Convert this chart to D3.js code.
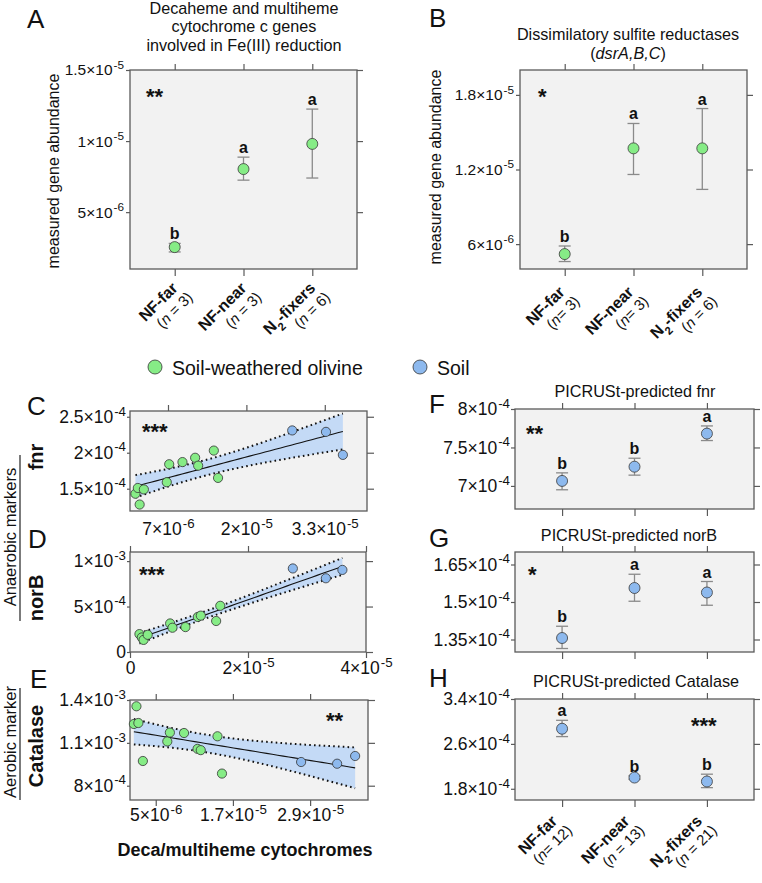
<!DOCTYPE html>
<html>
<head>
<meta charset="utf-8">
<script src="https://cdn.jsdelivr.net/npm/d3@7"></script>
<style>
  body { margin: 0; background: #fff; }
  svg text { font-family: "Liberation Sans", Arial, Helvetica, sans-serif; fill: #111; }
  .frame { fill: #f2f2f2; stroke: #5a5a5a; stroke-width: 1.3; }
  .axis line { stroke: #5a5a5a; stroke-width: 1.2; }
  .axis path { display: none; }
</style>
</head>
<body>
<div id="chart"></div>
<script>
// Groups on the x axis of the category panels
var groups = ["NF-far", "NF-near", "N2-fixers"];
var nOlivineA = [" = 3", " = 3", " = 6"];
var nOlivineB = ["= 3", "= 3", " = 6"];
var nSoil = ["= 12", " = 13", " = 21"];

// A: decaheme / multiheme cytochrome c genes (soil-weathered olivine)
var cytMean = [2.54e-6, 8.03e-6, 9.8e-6];
var cytLo = [2.2e-6, 7.25e-6, 7.4e-6];
var cytHi = [2.8e-6, 8.87e-6, 12.25e-6];
var cytLetters = ["b", "a", "a"];
var cytTicks = [5e-6, 1e-5, 1.5e-5];

// B: dsrA,B,C (soil-weathered olivine)
var dsrMean = [5.2e-6, 13.7e-6, 13.7e-6];
var dsrLo = [4.6e-6, 11.6e-6, 10.4e-6];
var dsrHi = [5.85e-6, 15.7e-6, 16.9e-6];
var dsrLetters = ["b", "a", "a"];
var dsrTicks = [6e-6, 1.2e-5, 1.8e-5];

// F, G, H: PICRUSt predictions (soil)
var fnrPredMean = [7.065e-4, 7.25e-4, 7.68e-4];
var fnrPredLo = [6.95e-4, 7.14e-4, 7.59e-4];
var fnrPredHi = [7.17e-4, 7.36e-4, 7.78e-4];
var fnrPredLetters = ["b", "b", "a"];
var fnrPredTicks = [7e-4, 7.5e-4, 8e-4];

var norBPredMean = [1.356e-4, 1.556e-4, 1.538e-4];
var norBPredLo = [1.314e-4, 1.503e-4, 1.487e-4];
var norBPredHi = [1.403e-4, 1.611e-4, 1.582e-4];
var norBPredLetters = ["b", "a", "a"];
var norBPredTicks = [1.35e-4, 1.5e-4, 1.65e-4];

var catPredMean = [2.87e-4, 2.0e-4, 1.93e-4];
var catPredLo = [2.73e-4, 1.97e-4, 1.82e-4];
var catPredHi = [3.02e-4, 2.03e-4, 2.06e-4];
var catPredLetters = ["a", "b", "b"];
var catPredTicks = [1.8e-4, 2.6e-4, 3.4e-4];

// C, D, E: per-sample deca/multiheme cytochrome abundance vs markers
var sampleType = ["olivine", "olivine", "olivine", "olivine", "olivine", "olivine",
  "olivine", "olivine", "olivine", "olivine", "olivine", "soil", "soil", "soil"];
var sampleCyt = [1.6e-6, 2.0e-6, 2.3e-6, 3.0e-6, 6.8e-6, 7.2e-6, 9.4e-6, 11.5e-6,
  12.0e-6, 14.6e-6, 15.3e-6, 27.6e-6, 33.2e-6, 36.0e-6];
var sampleFnr = [1.43e-4, 1.51e-4, 1.28e-4, 1.49e-4, 1.59e-4, 1.84e-4, 1.87e-4,
  1.93e-4, 1.82e-4, 2.03e-4, 1.65e-4, 2.31e-4, 2.29e-4, 1.97e-4];
var sampleNorB = [0.197e-3, 0.16e-3, 0.133e-3, 0.189e-3, 0.314e-3, 0.267e-3, 0.274e-3,
  0.386e-3, 0.40e-3, 0.341e-3, 0.508e-3, 0.919e-3, 0.811e-3, 0.903e-3];
var sampleCat = [1.232e-3, 1.356e-3, 1.239e-3, 0.973e-3, 1.11e-3, 1.172e-3, 1.169e-3,
  1.058e-3, 1.049e-3, 1.146e-3, 0.885e-3, 0.966e-3, 0.954e-3, 1.008e-3];

var fnrXTicks = [7e-6, 2e-5, 3.3e-5], fnrYTicks = [1.5e-4, 2e-4, 2.5e-4];
var norBXTicks = [0, 2e-5, 4e-5], norBYTicks = [0, 5e-4, 1e-3];
var catXTicks = [5e-6, 1.7e-5, 2.9e-5], catYTicks = [8e-4, 1.1e-3, 1.4e-3];

var colors = { olivine: "#86ec86", soil: "#8db9ee", band: "#c4daf6" };

var svg = d3.select("#chart").append("svg")
    .attr("width", 762)
    .attr("height", 883);

// a×10^b label with superscript exponent
function sci(text, v, size) {
  text.text(null);
  if (v === 0) { text.text("0"); return; }
  var e = Math.floor(Math.log10(v) + 1e-9);
  var m = +(v / Math.pow(10, e)).toPrecision(3);
  text.append("tspan").text(m + "×10");
  text.append("tspan").attr("font-size", size * 0.76).attr("dx", 1)
    .attr("dy", -size * 0.42).text(e);
}

function sciAxis(sel, size) {
  sel.selectAll(".tick text")
    .attr("font-size", size)
    .attr("fill", "#111")
    .each(function(d) { sci(d3.select(this), d, size); });
}

function panelLetter(letter, x, y) {
  svg.append("text").attr("x", x).attr("y", y)
    .attr("font-size", 26).text(letter);
}

function stars(s, x, y, size) {
  svg.append("text").attr("x", x).attr("y", y)
    .attr("font-size", size || 22).attr("font-weight", "bold").text(s);
}

function groupLabel(text, d) {
  if (d === "N2-fixers") {
    text.append("tspan").text("N");
    text.append("tspan").attr("font-size", "0.7em").attr("baseline-shift", "sub").text("2");
    text.append("tspan").text("-fixers");
  } else {
    text.text(d);
  }
}

// Category panel: mean ± error with letters
function catPanel(cfg) {
  var x = d3.scalePoint().domain(groups).range([cfg.x, cfg.x + cfg.w]).padding(0.65);
  var y = d3.scaleLinear().domain(cfg.domain).range([cfg.y + cfg.h, cfg.y]);
  var g = svg.append("g");

  g.append("rect").attr("class", "frame")
    .attr("x", cfg.x).attr("y", cfg.y).attr("width", cfg.w).attr("height", cfg.h);

  g.append("g").attr("class", "axis")
    .attr("transform", "translate(" + cfg.x + ",0)")
    .call(d3.axisLeft(y).tickValues(cfg.ticks).tickSize(4).tickPadding(cfg.tickPad))
    .call(sciAxis, cfg.tickFont);
  g.append("g").attr("class", "axis")
    .attr("transform", "translate(" + (cfg.x + cfg.w) + ",0)")
    .call(d3.axisRight(y).tickValues(cfg.ticks).tickSize(6).tickFormat(""));
  g.append("g").attr("class", "axis")
    .attr("transform", "translate(0," + cfg.y + ")")
    .call(d3.axisTop(x).tickSize(6).tickFormat(""));
  g.append("g").attr("class", "axis")
    .attr("transform", "translate(0," + (cfg.y + cfg.h) + ")")
    .call(d3.axisBottom(x).tickSize(7).tickFormat(""));

  var rows = groups.map(function(d, i) {
    return { g: d, mean: cfg.mean[i], lo: cfg.lo[i], hi: cfg.hi[i], letter: cfg.letters[i] };
  });

  var bars = g.append("g").selectAll("g").data(rows).enter().append("g")
    .attr("stroke", "#8a8a8a").attr("stroke-width", 1.3);
  bars.append("line")
    .attr("x1", function(d) { return x(d.g); }).attr("x2", function(d) { return x(d.g); })
    .attr("y1", function(d) { return y(d.lo); }).attr("y2", function(d) { return y(d.hi); });
  bars.append("line")
    .attr("x1", function(d) { return x(d.g) - 6; }).attr("x2", function(d) { return x(d.g) + 6; })
    .attr("y1", function(d) { return y(d.lo); }).attr("y2", function(d) { return y(d.lo); });
  bars.append("line")
    .attr("x1", function(d) { return x(d.g) - 6; }).attr("x2", function(d) { return x(d.g) + 6; })
    .attr("y1", function(d) { return y(d.hi); }).attr("y2", function(d) { return y(d.hi); });

  g.append("g").selectAll("circle").data(rows).enter().append("circle")
    .attr("cx", function(d) { return x(d.g); })
    .attr("cy", function(d) { return y(d.mean); })
    .attr("r", 5.5)
    .attr("fill", cfg.color).attr("stroke", "#3a3a3a").attr("stroke-width", 0.8);

  g.append("g").selectAll("text").data(rows).enter().append("text")
    .attr("x", function(d) { return x(d.g); })
    .attr("y", function(d) { return y(d.hi) - 4; })
    .attr("text-anchor", "middle")
    .attr("font-size", 16).attr("font-weight", "bold")
    .text(function(d) { return d.letter; });

  if (cfg.nLabels) {
    var lab = g.append("g").selectAll("g").data(groups).enter().append("g")
      .attr("transform", function(d) {
        return "translate(" + (x(d) + cfg.labelDx) + "," + (cfg.y + cfg.h + cfg.labelDy) + ") rotate(-45)";
      });
    lab.append("text")
      .attr("text-anchor", "end")
      .attr("font-size", 16).attr("font-weight", "bold")
      .each(function(d) { groupLabel(d3.select(this), d); });
    lab.append("text")
      .attr("text-anchor", "end")
      .attr("x", 4).attr("y", 17)
      .attr("font-size", 15)
      .each(function(d, i) {
        var t = d3.select(this);
        t.append("tspan").text("(");
        t.append("tspan").attr("font-style", "italic").text("n");
        t.append("tspan").text(cfg.nLabels[i] + ")");
      });
  }

  if (cfg.title) {
    var tt = svg.append("text").attr("text-anchor", "middle").attr("font-size", 16.2);
    cfg.title.forEach(function(line, i) {
      var ts = tt.append("tspan").attr("x", cfg.titleX).attr("y", cfg.titleY + i * 18.5);
      line.forEach(function(seg) {
        ts.append("tspan").attr("font-style", seg[1] ? "italic" : null).text(seg[0]);
      });
    });
  }
}

// Scatter panel with linear fit and 95% confidence band
function scatterPanel(cfg) {
  var x = d3.scaleLinear().domain(cfg.xDomain).range([cfg.x, cfg.x + cfg.w]);
  var y = d3.scaleLinear().domain(cfg.yDomain).range([cfg.y + cfg.h, cfg.y]);
  var g = svg.append("g");

  g.append("rect").attr("class", "frame")
    .attr("x", cfg.x).attr("y", cfg.y).attr("width", cfg.w).attr("height", cfg.h);

  g.append("g").attr("class", "axis")
    .attr("transform", "translate(" + cfg.x + ",0)")
    .call(d3.axisLeft(y).tickValues(cfg.yTicks).tickSize(3).tickPadding(1))
    .call(sciAxis, 17.5);
  g.append("g").attr("class", "axis")
    .attr("transform", "translate(" + (cfg.x + cfg.w) + ",0)")
    .call(d3.axisRight(y).tickValues(cfg.yTicks).tickSize(7).tickFormat(""));
  g.append("g").attr("class", "axis")
    .attr("transform", "translate(0," + cfg.y + ")")
    .call(d3.axisTop(x).tickValues(cfg.xTicks).tickSize(6).tickFormat(""));
  g.append("g").attr("class", "axis")
    .attr("transform", "translate(0," + (cfg.y + cfg.h) + ")")
    .call(d3.axisBottom(x).tickValues(cfg.xTicks).tickSize(cfg.bottomTick).tickPadding(cfg.xPad))
    .call(sciAxis, 17.5);

  var pts = cfg.xs.map(function(v, i) { return { x: v, y: cfg.ys[i], type: sampleType[i] }; });

  // least squares fit
  var n = pts.length;
  var mx = d3.mean(pts, function(d) { return d.x; });
  var my = d3.mean(pts, function(d) { return d.y; });
  var sxx = d3.sum(pts, function(d) { return (d.x - mx) * (d.x - mx); });
  var sxy = d3.sum(pts, function(d) { return (d.x - mx) * (d.y - my); });
  var b = sxy / sxx, a = my - b * mx;
  var sse = d3.sum(pts, function(d) { var r = d.y - a - b * d.x; return r * r; });
  var s = Math.sqrt(sse / (n - 2));
  var tcrit = 2.179; // t(0.975, df = 12)

  var x0 = d3.min(pts, function(d) { return d.x; });
  var x1 = d3.max(pts, function(d) { return d.x; });
  var grid = d3.range(0, 41).map(function(k) {
    var xv = x0 + (x1 - x0) * k / 40;
    var fit = a + b * xv;
    var se = s * Math.sqrt(1 / n + (xv - mx) * (xv - mx) / sxx);
    return { x: xv, fit: fit, lo: fit - tcrit * se, hi: fit + tcrit * se };
  });

  g.append("path").datum(grid)
    .attr("fill", colors.band)
    .attr("d", d3.area()
      .x(function(d) { return x(d.x); })
      .y0(function(d) { return y(d.lo); })
      .y1(function(d) { return y(d.hi); }));

  ["lo", "hi"].forEach(function(k) {
    g.append("path").datum(grid)
      .attr("fill", "none").attr("stroke", "#111").attr("stroke-width", 2)
      .attr("stroke-dasharray", "1.6,3.2")
      .attr("d", d3.line()
        .x(function(d) { return x(d.x); })
        .y(function(d) { return y(d[k]); }));
  });

  g.append("path").datum(grid)
    .attr("fill", "none").attr("stroke", "#111").attr("stroke-width", 1.1)
    .attr("d", d3.line()
      .x(function(d) { return x(d.x); })
      .y(function(d) { return y(d.fit); }));

  g.append("g").selectAll("circle").data(pts).enter().append("circle")
    .attr("cx", function(d) { return x(d.x); })
    .attr("cy", function(d) { return y(d.y); })
    .attr("r", 4.6)
    .attr("fill", function(d) { return colors[d.type]; })
    .attr("stroke", "#333").attr("stroke-width", 0.8);
}

// ---- Panels ----------------------------------------------------------------
catPanel({
  x: 130, y: 70, w: 227, h: 199, domain: [1e-6, 1.5e-5], ticks: cytTicks,
  tickFont: 15.5, tickPad: 2,
  mean: cytMean, lo: cytLo, hi: cytHi, letters: cytLetters, color: colors.olivine,
  nLabels: nOlivineA, labelDx: 4, labelDy: 20,
  title: [[["Decaheme and multiheme"]], [["cytochrome c genes"]], [["involved in Fe(III) reduction"]]],
  titleX: 244, titleY: 13.5
});
catPanel({
  x: 520, y: 70, w: 227, h: 199, domain: [4e-6, 2e-5], ticks: dsrTicks,
  tickFont: 15.5, tickPad: 2,
  mean: dsrMean, lo: dsrLo, hi: dsrHi, letters: dsrLetters, color: colors.olivine,
  nLabels: nOlivineB, labelDx: 1, labelDy: 24,
  title: [[["Dissimilatory sulfite reductases"]], [["("], ["dsrA,B,C", true], [")"]]],
  titleX: 628, titleY: 40
});
catPanel({
  x: 515, y: 409, w: 239, h: 100, domain: [6.7e-4, 8e-4], ticks: fnrPredTicks,
  tickFont: 17.5, tickPad: 1,
  mean: fnrPredMean, lo: fnrPredLo, hi: fnrPredHi, letters: fnrPredLetters, color: colors.soil,
  title: [[["PICRUSt-predicted fnr"]]], titleX: 635, titleY: 397
});
catPanel({
  x: 515, y: 552, w: 239, h: 100, domain: [1.3e-4, 1.7e-4], ticks: norBPredTicks,
  tickFont: 17.5, tickPad: 1,
  mean: norBPredMean, lo: norBPredLo, hi: norBPredHi, letters: norBPredLetters, color: colors.soil,
  title: [[["PICRUSt-predicted norB"]]], titleX: 629, titleY: 541
});
catPanel({
  x: 515, y: 699, w: 239, h: 101, domain: [1.6e-4, 3.4e-4], ticks: catPredTicks,
  tickFont: 17.5, tickPad: 1,
  mean: catPredMean, lo: catPredLo, hi: catPredHi, letters: catPredLetters, color: colors.soil,
  nLabels: nSoil, labelDx: -4, labelDy: 22,
  title: [[["PICRUSt-predicted Catalase"]]], titleX: 636, titleY: 687
});

scatterPanel({
  x: 130, y: 411, w: 237, h: 100, xDomain: [0.7e-6, 4e-5], yDomain: [1.19e-4, 2.58e-4],
  xTicks: fnrXTicks, yTicks: fnrYTicks, xs: sampleCyt, ys: sampleFnr, bottomTick: 0, xPad: 12
});
scatterPanel({
  x: 130, y: 552, w: 236, h: 100, xDomain: [0, 4e-5], yDomain: [0, 1.1e-3],
  xTicks: norBXTicks, yTicks: norBYTicks, xs: sampleCyt, ys: sampleNorB, bottomTick: 6, xPad: 4
});
scatterPanel({
  x: 130, y: 700, w: 238, h: 100, xDomain: [1e-6, 3.8e-5], yDomain: [7e-4, 1.4e-3],
  xTicks: catXTicks, yTicks: catYTicks, xs: sampleCyt, ys: sampleCat, bottomTick: 6, xPad: 3
});

// ---- Annotations -----------------------------------------------------------
panelLetter("A", 27, 28);
panelLetter("B", 429, 27);
panelLetter("C", 27, 415);
panelLetter("D", 28, 548);
panelLetter("E", 30, 688);
panelLetter("F", 429, 413);
panelLetter("G", 429, 547);
panelLetter("H", 429, 687);

stars("**", 146, 104);
stars("*", 538, 104);
stars("***", 142, 439);
stars("***", 139, 582);
stars("**", 326, 728);
stars("**", 526, 441);
stars("*", 528, 582);
stars("***", 691, 733);

// y-axis titles of A and B
[[59, 171], [441, 167]].forEach(function(p) {
  svg.append("text")
    .attr("transform", "translate(" + p[0] + "," + p[1] + ") rotate(-90)")
    .attr("text-anchor", "middle").attr("font-size", 16)
    .text("measured gene abundance");
});

// marker labels on the left
function sideLabel(text, x, y, size, bold) {
  svg.append("text")
    .attr("transform", "translate(" + x + "," + y + ") rotate(-90)")
    .attr("text-anchor", "middle").attr("font-size", size)
    .attr("font-weight", bold ? "bold" : null)
    .text(text);
}
sideLabel("Anaerobic markers", 16, 537, 16.5, false);
sideLabel("Aerobic marker", 16, 742, 16.5, false);
sideLabel("fnr", 43, 457, 20, true);
sideLabel("norB", 43, 598, 20, true);
sideLabel("Catalase", 43, 746, 20, true);
svg.append("line").attr("x1", 20).attr("x2", 20).attr("y1", 455).attr("y2", 621)
  .attr("stroke", "#222").attr("stroke-width", 1.2);
svg.append("line").attr("x1", 20).attr("x2", 20).attr("y1", 688).attr("y2", 800)
  .attr("stroke", "#222").attr("stroke-width", 1.2);

svg.append("text").attr("x", 245).attr("y", 856)
  .attr("text-anchor", "middle").attr("font-size", 18).attr("font-weight", "bold")
  .text("Deca/multiheme cytochromes");

// legend
var legend = [["Soil-weathered olivine", colors.olivine, 155], ["Soil", colors.soil, 420]];
legend.forEach(function(l) {
  svg.append("circle").attr("cx", l[2]).attr("cy", 367).attr("r", 7)
    .attr("fill", l[1]).attr("stroke", "#333").attr("stroke-width", 0.8);
  svg.append("text").attr("x", l[2] + 17).attr("y", 375)
    .attr("font-size", 19.5).text(l[0]);
});
</script>
</body>
</html>
